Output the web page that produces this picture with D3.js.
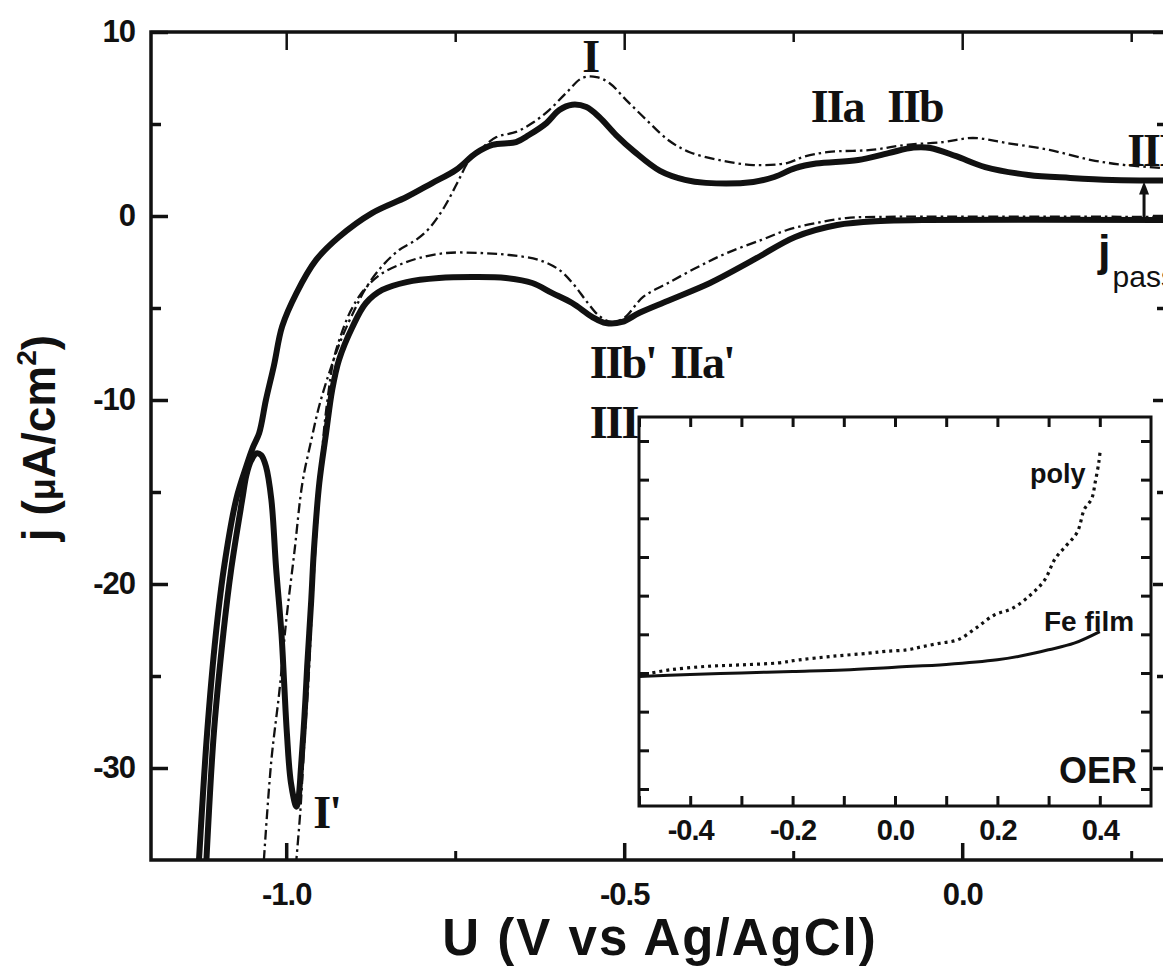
<!DOCTYPE html>
<html>
<head>
<meta charset="utf-8">
<script src="https://cdn.jsdelivr.net/npm/d3@7"></script>
<style>
  body { margin: 0; background: #fff; }
  svg { display: block; }
</style>
</head>
<body>
<svg id="chart" width="1163" height="969"></svg>
<script>
// ---- Fe film CV (thick solid): potential U (V vs Ag/AgCl), current density j (µA/cm²)
const filmAnodicU = [-1.129, -1.117, -1.104, -1.092, -1.074, -1.059, -1.049, -1.040, -1.030, -1.018, -1.006,
  -0.985, -0.956, -0.922, -0.873, -0.822, -0.784, -0.749, -0.719, -0.695, -0.660, -0.641, -0.615, -0.596,
  -0.577, -0.556, -0.537, -0.512, -0.485, -0.447, -0.410, -0.379, -0.309, -0.278, -0.247, -0.216, -0.154,
  -0.109, -0.072, -0.047, -0.009, 0.034, 0.098, 0.160, 0.222, 0.296];
const filmAnodicJ = [-35, -28.1, -22.7, -19.1, -15.4, -13.6, -12.55, -11.8, -10.0, -8.1, -6.0,
  -4.2, -2.4, -1.14, 0.16, 1.03, 1.79, 2.5, 3.42, 3.86, 4.02, 4.4, 5.05, 5.76,
  6.05, 5.92, 5.38, 4.4, 3.5, 2.45, 1.96, 1.8, 1.85, 2.12, 2.6, 2.85, 3.04,
  3.42, 3.72, 3.70, 3.25, 2.66, 2.23, 2.07, 1.96, 1.93];

const filmCathodicU = [0.296, -0.059, -0.121, -0.185, -0.247, -0.309, -0.373, -0.435, -0.478, -0.503,
  -0.527, -0.547, -0.577, -0.607, -0.636, -0.675, -0.725, -0.774, -0.822, -0.858, -0.882, -0.902,
  -0.922, -0.932, -0.941, -0.951, -0.959, -0.963, -0.969, -0.973, -0.978, -0.982, -0.985, -0.993,
  -0.999, -1.003, -1.007, -1.015, -1.022, -1.030, -1.037, -1.044, -1.052, -1.059, -1.065, -1.081,
  -1.093, -1.107, -1.118];
const filmCathodicJ = [-0.22, -0.22, -0.27, -0.49, -1.14, -2.39, -3.64, -4.6, -5.27, -5.76,
  -5.82, -5.49, -4.73, -4.18, -3.64, -3.37, -3.32, -3.37, -3.59, -4.02, -4.73, -6.03,
  -7.83, -9.46, -11.8, -14.5, -18.15, -20.9, -24.5, -27.2, -29.9, -31.7, -32.1, -30.8,
  -28.1, -25.4, -22.7, -19.1, -15.4, -13.6, -13.0, -12.9, -13.3, -14.1, -15.4, -19.1,
  -22.7, -28.1, -35];

// ---- polycrystalline Fe CV (thin dash-dot)
const polyAnodicU = [-1.033, -1.022, -1.010, -1.000, -0.988, -0.976, -0.963, -0.951, -0.936, -0.919,
  -0.899, -0.882, -0.858, -0.833, -0.808, -0.788, -0.766, -0.747, -0.729, -0.710, -0.689, -0.660,
  -0.636, -0.611, -0.586, -0.562, -0.541, -0.522, -0.497, -0.467, -0.435, -0.404, -0.359, -0.309,
  -0.259, -0.235, -0.197, -0.135, -0.084, -0.028, 0.016, 0.065, 0.129, 0.191, 0.241, 0.296];
const polyAnodicJ = [-35, -29.6, -25.8, -22.0, -18.3, -14.5, -12.2, -10.3, -8.48, -6.74,
  -5.11, -3.91, -2.72, -1.85, -1.30, -0.65, 0.49, 1.79, 3.04, 3.70, 4.29, 4.57,
  5.05, 5.76, 6.68, 7.50, 7.55, 7.23, 6.30, 5.22, 4.13, 3.48, 3.04, 2.77,
  2.88, 3.21, 3.48, 3.59, 3.86, 4.02, 4.24, 3.97, 3.59, 3.04, 2.77, 2.61];

const polyCathodicU = [0.296, -0.123, -0.172, -0.216, -0.259, -0.297, -0.348, -0.391, -0.435, -0.472,
  -0.500, -0.519, -0.537, -0.555, -0.574, -0.596, -0.626, -0.670, -0.714, -0.763, -0.803, -0.833,
  -0.862, -0.885, -0.904, -0.919, -0.930, -0.938, -0.944, -0.950, -0.956, -0.962, -0.967, -0.973,
  -0.979, -0.985];
const polyCathodicJ = [-0.05, -0.05, -0.11, -0.38, -0.76, -1.30, -2.01, -2.77, -3.64, -4.40,
  -5.54, -5.76, -5.43, -4.67, -3.75, -2.93, -2.39, -2.12, -2.01, -2.01, -2.28, -2.66,
  -3.21, -4.02, -5.11, -6.47, -7.83, -9.73, -11.6, -14.35, -17.6, -21.4, -25.2, -28.5,
  -32.3, -35];

// ---- inset: oxygen evolution sweeps (arbitrary current units)
const oerFilmU = [-0.5, -0.4, -0.3, -0.2, -0.1, 0.0, 0.1, 0.2, 0.25, 0.3, 0.35, 0.4];
const oerFilmI = [2.91, 2.96, 3.0, 3.04, 3.08, 3.15, 3.22, 3.34, 3.45, 3.6, 3.77, 4.07];
const oerPolyU = [-0.5, -0.489, -0.44, -0.37, -0.30, -0.229, -0.187, -0.123, -0.053, -0.018, 0.025,
  0.053, 0.088, 0.123, 0.158, 0.194, 0.229, 0.264, 0.292, 0.313, 0.335, 0.356, 0.370, 0.384,
  0.391, 0.398, 0.401];
const oerPolyI = [2.91, 2.96, 3.08, 3.17, 3.21, 3.26, 3.34, 3.43, 3.51, 3.56, 3.60,
  3.68, 3.77, 3.86, 4.16, 4.50, 4.67, 5.01, 5.40, 5.96, 6.30, 6.64, 7.24, 7.50,
  7.93, 8.44, 8.78];

// ---- ticks
const xMajorTicks = [-1.0, -0.5, 0.0];
const xMajorLabels = ["-1.0", "-0.5", "0.0"];
const xMinorTicks = [-0.75, -0.25, 0.25];
const yMajorTicks = [10, 0, -10, -20, -30];
const yMajorLabels = ["10", "0", "-10", "-20", "-30"];
const yMinorTicks = [5, -5, -15, -25];
const insetXLabelTicks = [-0.4, -0.2, 0.0, 0.2, 0.4];
const insetXLabels = ["-0.4", "-0.2", "0.0", "0.2", "0.4"];
const insetXMinorTicks = [-0.5, -0.3, -0.1, 0.1, 0.3];
const insetYTicks = [0, 1, 2, 3, 4, 5, 6, 7, 8, 9];

// ---- annotations (placed in data coordinates)
const peakLabels = [
  { text: "I",    u: -0.562, j: 7.83 },
  { text: "IIa",  u: -0.224, j: 5.11 },
  { text: "IIb",  u: -0.111, j: 5.11 },
  { text: "III",  u: 0.244,  j: 2.72 },
  { text: "IIb'", u: -0.551, j: -8.80 },
  { text: "IIa'", u: -0.432, j: -8.80 },
  { text: "III",  u: -0.551, j: -12.07 },
  { text: "I'",   u: -0.960, j: -33.26 }
];
const jPassU = 0.269;
const jPassFrom = -0.22;
const jPassTo = 1.93;

const sans = "'Liberation Sans', Arial, Helvetica, sans-serif";
const serif = "'Liberation Serif', 'Times New Roman', serif";

const svg = d3.select("#chart");

const x = d3.scaleLinear().domain([-1.2, 0.3]).range([151, 1165]);
const y = d3.scaleLinear().domain([-35, 10]).range([860, 32]);

svg.append("defs").append("clipPath").attr("id", "plotClip")
  .append("rect")
  .attr("x", x.range()[0]).attr("y", y.range()[1])
  .attr("width", x.range()[1] - x.range()[0])
  .attr("height", y.range()[0] - y.range()[1]);

const curve = d3.line()
  .x(d => x(d[0])).y(d => y(d[1]))
  .curve(d3.curveCatmullRom.alpha(0.5));

const curves = svg.append("g").attr("clip-path", "url(#plotClip)");

// dash-dot sweeps underneath
[[polyAnodicU, polyAnodicJ], [polyCathodicU, polyCathodicJ]].forEach(([u, j]) => {
  curves.append("path")
    .attr("d", curve(d3.zip(u, j)))
    .attr("fill", "none").attr("stroke", "#111")
    .attr("stroke-width", 2.3)
    .attr("stroke-dasharray", "10 4 2.5 4");
});
// thick solid sweeps
[[filmAnodicU, filmAnodicJ], [filmCathodicU, filmCathodicJ]].forEach(([u, j]) => {
  curves.append("path")
    .attr("d", curve(d3.zip(u, j)))
    .attr("fill", "none").attr("stroke", "#111")
    .attr("stroke-width", 6)
    .attr("stroke-linejoin", "round").attr("stroke-linecap", "round");
});

// ---- main axes
function styleAxis(g, width) {
  g.select(".domain").remove();
  g.selectAll(".tick line").attr("stroke", "#111").attr("stroke-width", width);
  g.selectAll(".tick text")
    .attr("fill", "#111")
    .attr("font-family", sans).attr("font-weight", "bold")
    .attr("font-size", 31).attr("letter-spacing", -1);
}
const xBottom = y.range()[0], yTop = y.range()[1];
const xLeft = x.range()[0], xRight = x.range()[1];

svg.append("g").attr("transform", `translate(0,${xBottom})`)
  .call(d3.axisBottom(x).tickValues(xMinorTicks).tickSize(-9).tickFormat(""))
  .call(g => styleAxis(g, 3));
svg.append("g").attr("transform", `translate(0,${xBottom})`)
  .call(d3.axisBottom(x).tickValues(xMajorTicks).tickSize(-17).tickPadding(23)
    .tickFormat((d, i) => xMajorLabels[i]))
  .call(g => styleAxis(g, 3.5));
svg.append("g").attr("transform", `translate(0,${yTop})`)
  .call(d3.axisTop(x).tickValues(xMinorTicks).tickSize(-10).tickFormat(""))
  .call(g => styleAxis(g, 2.5));
svg.append("g").attr("transform", `translate(0,${yTop})`)
  .call(d3.axisTop(x).tickValues(xMajorTicks).tickSize(-18).tickFormat(""))
  .call(g => styleAxis(g, 2.5));

svg.append("g").attr("transform", `translate(${xLeft},0)`)
  .call(d3.axisLeft(y).tickValues(yMinorTicks).tickSize(-10).tickFormat(""))
  .call(g => styleAxis(g, 3.5));
svg.append("g").attr("transform", `translate(${xLeft},0)`)
  .call(d3.axisLeft(y).tickValues(yMajorTicks).tickSize(-17).tickPadding(16)
    .tickFormat((d, i) => yMajorLabels[i]))
  .call(g => styleAxis(g, 3.5));
svg.append("g").attr("transform", `translate(${xRight},0)`)
  .call(d3.axisRight(y).tickValues(yMinorTicks).tickSize(-8).tickFormat(""))
  .call(g => styleAxis(g, 3.5));
svg.append("g").attr("transform", `translate(${xRight},0)`)
  .call(d3.axisRight(y).tickValues(yMajorTicks).tickSize(-12).tickFormat(""))
  .call(g => styleAxis(g, 3.5));

svg.append("rect")
  .attr("x", xLeft).attr("y", yTop)
  .attr("width", xRight - xLeft).attr("height", xBottom - yTop)
  .attr("fill", "none").attr("stroke", "#111").attr("stroke-width", 3.5);

// axis titles
svg.append("text")
  .attr("x", (xLeft + xRight) / 2 + 2).attr("y", 955)
  .attr("text-anchor", "middle")
  .attr("font-family", sans).attr("font-weight", "bold").attr("font-size", 51)
  .attr("letter-spacing", 2)
  .attr("fill", "#111")
  .text("U (V vs Ag/AgCl)");

const yTitle = svg.append("text")
  .attr("transform", "translate(55,438) rotate(-90)")
  .attr("text-anchor", "middle")
  .attr("font-family", sans).attr("font-weight", "bold").attr("font-size", 46)
  .attr("fill", "#111");
yTitle.append("tspan").text("j (");
yTitle.append("tspan").attr("font-size", 36).text("μ");
yTitle.append("tspan").text("A/cm");
yTitle.append("tspan").attr("font-size", 28).attr("dy", -19).text("2");
yTitle.append("tspan").attr("dy", 19).text(")");

// peak labels
svg.append("g").selectAll("text").data(peakLabels).join("text")
  .attr("x", d => x(d.u)).attr("y", d => y(d.j))
  .attr("font-family", serif).attr("font-weight", "bold").attr("font-size", 46)
  .attr("letter-spacing", -2)
  .attr("fill", "#111")
  .text(d => d.text);

// passive current arrow
const ax = x(jPassU);
svg.append("line")
  .attr("x1", ax).attr("x2", ax)
  .attr("y1", y(jPassFrom)).attr("y2", y(jPassTo) + 12)
  .attr("stroke", "#111").attr("stroke-width", 3);
svg.append("path")
  .attr("d", `M${ax - 5},${y(jPassTo) + 14} L${ax},${y(jPassTo) + 1} L${ax + 5},${y(jPassTo) + 14} Z`)
  .attr("fill", "#111");
const jp = svg.append("text")
  .attr("x", 1098).attr("y", 266)
  .attr("font-family", sans).attr("fill", "#111");
jp.append("tspan").attr("font-size", 45).attr("font-weight", "bold").text("j");
jp.append("tspan").attr("font-size", 30).attr("dy", 21).attr("dx", 2).text("pass");

// ---- inset
const ix = d3.scaleLinear().domain([-0.5, 0.5]).range([639, 1151]);
const iy = d3.scaleLinear().domain([-0.44, 9.62]).range([806, 417]);
const inset = svg.append("g");
inset.append("rect")
  .attr("x", ix.range()[0]).attr("y", iy.range()[1])
  .attr("width", ix.range()[1] - ix.range()[0]).attr("height", iy.range()[0] - iy.range()[1])
  .attr("fill", "#fff");

const iline = d3.line().x(d => ix(d[0])).y(d => iy(d[1])).curve(d3.curveCatmullRom.alpha(0.5));
inset.append("path")
  .attr("d", iline(d3.zip(oerPolyU, oerPolyI)))
  .attr("fill", "none").attr("stroke", "#111").attr("stroke-width", 3.2)
  .attr("stroke-dasharray", "3 4");
inset.append("path")
  .attr("d", iline(d3.zip(oerFilmU, oerFilmI)))
  .attr("fill", "none").attr("stroke", "#111").attr("stroke-width", 3);

const iBottom = iy.range()[0], iTop = iy.range()[1];
const iLeft = ix.range()[0], iRight = ix.range()[1];
inset.append("g").attr("transform", `translate(0,${iBottom})`)
  .call(d3.axisBottom(ix).tickValues(insetXLabelTicks).tickSize(-10).tickPadding(13)
    .tickFormat((d, i) => insetXLabels[i]))
  .call(g => { styleAxis(g, 3); g.selectAll(".tick text").attr("font-size", 29); });
inset.append("g").attr("transform", `translate(0,${iBottom})`)
  .call(d3.axisBottom(ix).tickValues(insetXMinorTicks).tickSize(-10).tickFormat(""))
  .call(g => styleAxis(g, 3));
inset.append("g").attr("transform", `translate(0,${iTop})`)
  .call(d3.axisTop(ix).tickValues(insetXLabelTicks.concat(insetXMinorTicks)).tickSize(-10).tickFormat(""))
  .call(g => styleAxis(g, 3));
inset.append("g").attr("transform", `translate(${iLeft},0)`)
  .call(d3.axisLeft(iy).tickValues(insetYTicks).tickSize(-10).tickFormat(""))
  .call(g => styleAxis(g, 3));
inset.append("g").attr("transform", `translate(${iRight},0)`)
  .call(d3.axisRight(iy).tickValues(insetYTicks).tickSize(-10).tickFormat(""))
  .call(g => styleAxis(g, 3));
inset.append("rect")
  .attr("x", iLeft).attr("y", iTop)
  .attr("width", iRight - iLeft).attr("height", iBottom - iTop)
  .attr("fill", "none").attr("stroke", "#111").attr("stroke-width", 3);

inset.append("text").attr("x", 1030).attr("y", 483)
  .attr("font-family", sans).attr("font-weight", "bold").attr("font-size", 27)
  .attr("fill", "#111").text("poly");
inset.append("text").attr("x", 1044).attr("y", 631)
  .attr("font-family", sans).attr("font-weight", "bold").attr("font-size", 28)
  .attr("fill", "#111").text("Fe film");
inset.append("text").attr("x", 1059).attr("y", 783)
  .attr("font-family", sans).attr("font-weight", "bold").attr("font-size", 36)
  .attr("fill", "#111").text("OER");
</script>
</body>
</html>
